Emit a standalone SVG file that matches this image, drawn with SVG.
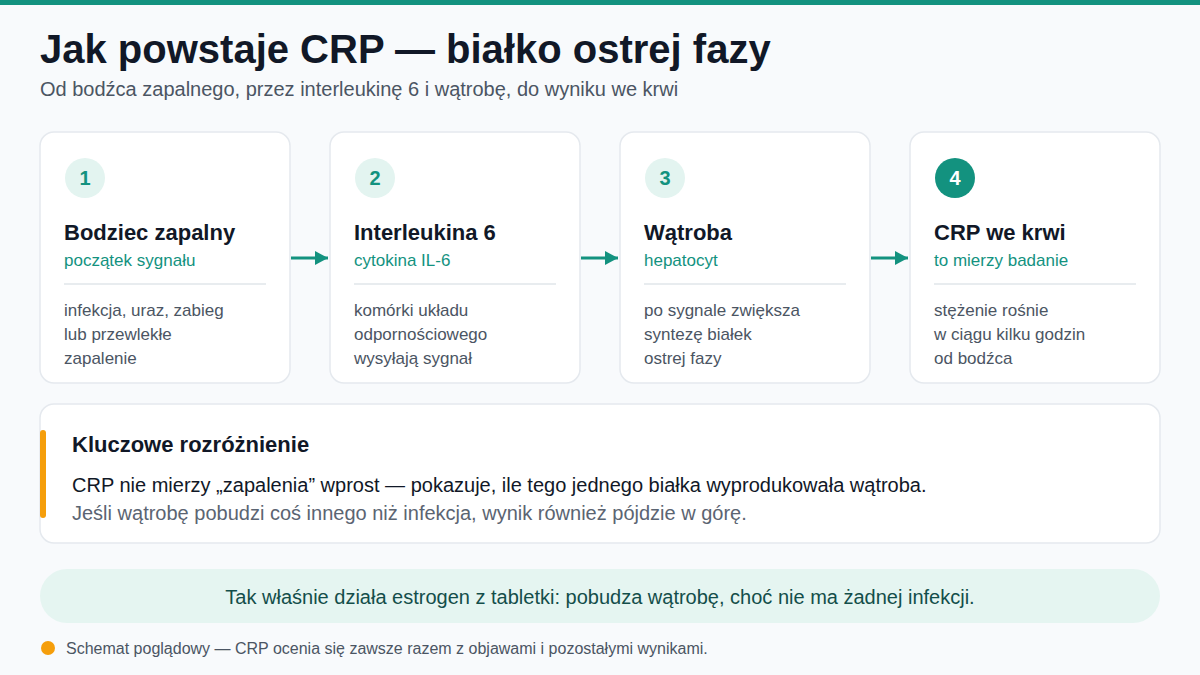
<svg xmlns="http://www.w3.org/2000/svg" width="1200" height="675" viewBox="0 0 1200 675">
<defs>
<style>
text{font-family:"Liberation Sans",Arial,sans-serif}
.card{fill:#ffffff;stroke:#e5e9ee;stroke-width:1.5}
.numc{fill:#e3f4f0}
.num{font-size:20px;font-weight:bold;fill:#13927f;text-anchor:middle}
.ttl{font-size:22px;font-weight:bold;fill:#111827}
.sub{font-size:17px;fill:#13927f}
.div{stroke:#e8ecef;stroke-width:2}
.body{font-size:17px;fill:#4b5563}
.conn{stroke:#13927f;stroke-width:3;fill:none}
</style>
<marker id="ah" viewBox="0 0 13 14" refX="13" refY="7" markerWidth="13" markerHeight="14" markerUnits="userSpaceOnUse" orient="auto">
<path d="M0,0 L13,7 L0,14 z" fill="#13927f"/>
</marker>
</defs>
<rect width="1200" height="675" fill="#f8fafc"/>
<rect width="1200" height="5" fill="#13927f"/>
<text x="40" y="63" font-size="40" font-weight="bold" fill="#111827">Jak powstaje CRP — białko ostrej fazy</text>
<text x="40" y="96" font-size="20" fill="#4b5563">Od bodźca zapalnego, przez interleukinę 6 i wątrobę, do wyniku we krwi</text>

<g id="node1">
<rect class="card" x="40" y="132" width="250" height="251" rx="14"/>
<circle class="numc" cx="85" cy="178" r="20"/>
<text class="num" x="85" y="185">1</text>
<text class="ttl" x="64" y="240">Bodziec zapalny</text>
<text class="sub" x="64" y="266">początek sygnału</text>
<line class="div" x1="64" y1="284" x2="266" y2="284"/>
<text class="body" x="64" y="316">infekcja, uraz, zabieg</text>
<text class="body" x="64" y="340">lub przewlekłe</text>
<text class="body" x="64" y="364">zapalenie</text>
</g>
<g id="node2">
<rect class="card" x="330" y="132" width="250" height="251" rx="14"/>
<circle class="numc" cx="375" cy="178" r="20"/>
<text class="num" x="375" y="185">2</text>
<text class="ttl" x="354" y="240">Interleukina 6</text>
<text class="sub" x="354" y="266">cytokina IL-6</text>
<line class="div" x1="354" y1="284" x2="556" y2="284"/>
<text class="body" x="354" y="316">komórki układu</text>
<text class="body" x="354" y="340">odpornościowego</text>
<text class="body" x="354" y="364">wysyłają sygnał</text>
</g>
<g id="node3">
<rect class="card" x="620" y="132" width="250" height="251" rx="14"/>
<circle class="numc" cx="665" cy="178" r="20"/>
<text class="num" x="665" y="185">3</text>
<text class="ttl" x="644" y="240">Wątroba</text>
<text class="sub" x="644" y="266">hepatocyt</text>
<line class="div" x1="644" y1="284" x2="846" y2="284"/>
<text class="body" x="644" y="316">po sygnale zwiększa</text>
<text class="body" x="644" y="340">syntezę białek</text>
<text class="body" x="644" y="364">ostrej fazy</text>
</g>
<g id="node4">
<rect class="card" x="910" y="132" width="250" height="251" rx="14"/>
<circle cx="955" cy="178" r="20" fill="#13927f"/>
<text class="num" x="955" y="185" style="fill:#ffffff">4</text>
<text class="ttl" x="934" y="240">CRP we krwi</text>
<text class="sub" x="934" y="266">to mierzy badanie</text>
<line class="div" x1="934" y1="284" x2="1136" y2="284"/>
<text class="body" x="934" y="316">stężenie rośnie</text>
<text class="body" x="934" y="340">w ciągu kilku godzin</text>
<text class="body" x="934" y="364">od bodźca</text>
</g>

<g id="connectors">
<line class="conn" x1="291" y1="258" x2="328" y2="258" marker-end="url(#ah)"/>
<line class="conn" x1="581" y1="258" x2="618" y2="258" marker-end="url(#ah)"/>
<line class="conn" x1="871" y1="258" x2="908" y2="258" marker-end="url(#ah)"/>
</g>

<g id="key">
<rect class="card" x="40" y="404" width="1120" height="139" rx="14"/>
<rect x="40" y="430" width="6" height="88" rx="3" fill="#f59e0b"/>
<text x="72" y="452" font-size="22" font-weight="bold" fill="#111827">Kluczowe rozróżnienie</text>
<text x="72" y="492" font-size="20" fill="#111827">CRP nie mierzy „zapalenia” wprost — pokazuje, ile tego jednego białka wyprodukowała wątroba.</text>
<text x="72" y="520" font-size="20" fill="#5b6472">Jeśli wątrobę pobudzi coś innego niż infekcja, wynik również pójdzie w górę.</text>
</g>

<g id="banner">
<rect x="40" y="569" width="1120" height="54" rx="27" fill="#e5f5f1"/>
<text x="600" y="604" font-size="20" fill="#134e4a" text-anchor="middle">Tak właśnie działa estrogen z tabletki: pobudza wątrobę, choć nie ma żadnej infekcji.</text>
</g>

<g id="footnote">
<circle cx="48" cy="648" r="7" fill="#f59e0b"/>
<text x="66" y="654" font-size="16" fill="#4b5563">Schemat poglądowy — CRP ocenia się zawsze razem z objawami i pozostałymi wynikami.</text>
</g>
</svg>
